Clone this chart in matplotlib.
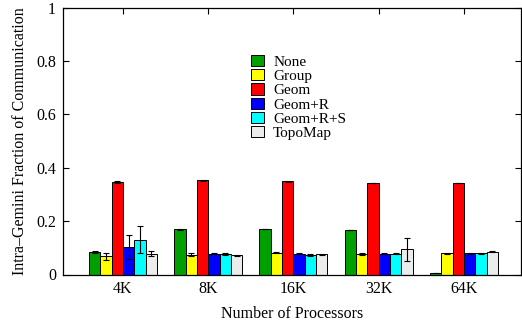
import matplotlib
matplotlib.use("Agg")
import matplotlib.pyplot as plt
import numpy as np

categories = ["4K", "8K", "16K", "32K", "64K"]
series = ["None", "Group", "Geom", "Geom+R", "Geom+R+S", "TopoMap"]
colors = ["#00a000", "#ffff00", "#ff0000", "#0000ff", "#00ffff", "#ececec"]

none_v = [0.085, 0.169, 0.170, 0.167, 0.005]
group_v = [0.068, 0.074, 0.082, 0.077, 0.079]
geom_v = [0.347, 0.353, 0.350, 0.343, 0.343]
geomr_v = [0.103, 0.078, 0.078, 0.077, 0.079]
geomrs_v = [0.130, 0.078, 0.074, 0.077, 0.079]
topo_v = [0.078, 0.072, 0.075, 0.094, 0.085]

none_e = [0.003, 0.002, 0.001, 0.001, 0.001]
group_e = [0.012, 0.006, 0.002, 0.003, 0.002]
geom_e = [0.003, 0.002, 0.002, 0.001, 0.001]
geomr_e = [0.045, 0.003, 0.003, 0.002, 0.002]
geomrs_e = [0.050, 0.004, 0.003, 0.002, 0.002]
topo_e = [0.009, 0.002, 0.002, 0.042, 0.002]

values = [none_v, group_v, geom_v, geomr_v, geomrs_v, topo_v]
errors = [none_e, group_e, geom_e, geomr_e, geomrs_e, topo_e]

FS = 11.5
plt.rcParams['font.family'] = ['Liberation Serif', 'DejaVu Serif']
plt.rcParams['font.size'] = FS

fig = plt.figure(figsize=(5.22, 3.24), dpi=100)
ax = fig.add_axes([63/522, 1 - 274.5/324, (521-63)/522, (274.5-7.5)/324])

x = np.arange(len(categories))
w = 0.133
for i, (name, vals, errs, c) in enumerate(zip(series, values, errors, colors)):
    pos = x + (i - 2.5) * w
    ax.bar(pos, vals, width=w, color=c, edgecolor='black', linewidth=0.7,
           label=name, zorder=3)
    ax.errorbar(pos, vals, yerr=errs, fmt='none', ecolor='black',
                elinewidth=0.8, capsize=2.5, capthick=0.8, zorder=4)

ax.set_xlim(-0.704, 4.67)
ax.set_ylim(0, 1)
ax.set_xticks(x)
ax.set_xticklabels(categories)
ax.set_yticks([0, 0.2, 0.4, 0.6, 0.8, 1])
ax.set_yticklabels(["0", "0.2", "0.4", "0.6", "0.8", "1"])
ax.tick_params(direction='in', top=True, right=True, length=4, width=0.8,
               labelsize=FS, pad=5)
for s in ax.spines.values():
    s.set_linewidth(0.9)
    s.set_zorder(5)

ax.set_xlabel("Number of Processors", fontsize=FS, labelpad=6)
ax.set_ylabel("Intra–Gemini Fraction of Communication", fontsize=FS, labelpad=6)

leg = ax.legend(loc='upper left', bbox_to_anchor=((251-63)/458, 1 - (55-7.5)/267),
                frameon=False, fontsize=11, handlelength=0.85, handleheight=0.75,
                handletextpad=0.6, labelspacing=0.02, borderaxespad=0, borderpad=0)
for h in leg.legend_handles:
    h.set_linewidth(0.7)

fig.savefig("out.png", dpi=100)
